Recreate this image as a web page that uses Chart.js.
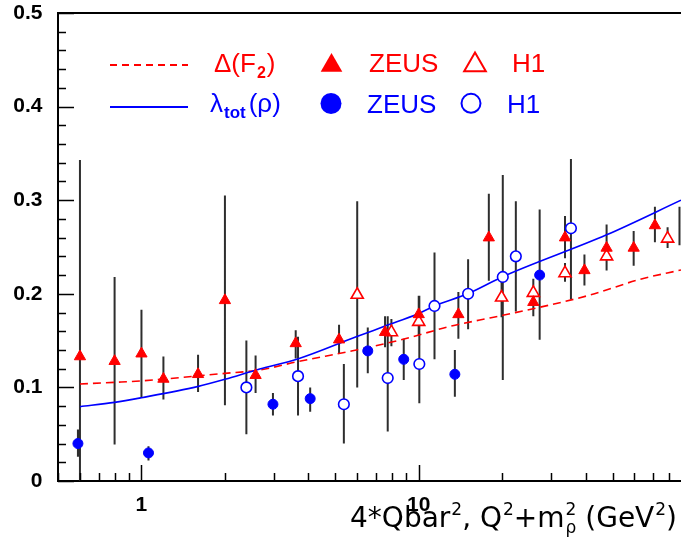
<!DOCTYPE html>
<html><head><meta charset="utf-8">
<script src="https://cdn.jsdelivr.net/npm/chart.js@4.4.1/dist/chart.umd.min.js"></script>
<style>html,body{margin:0;padding:0;background:#fff;overflow:hidden}canvas{display:block}</style>
</head><body>
<canvas id="c" width="681" height="556"></canvas>
<script>
// ---------- data ----------
const xTickValues = [1, 10];
const yTickValues = [0, 0.1, 0.2, 0.3, 0.4, 0.5];

// ZEUS Delta(F2)  (filled red triangles)
const zeusDeltaX  = [0.6, 0.8, 1.0, 1.2, 1.6, 2.0, 2.58, 3.6, 5.16, 7.56, 10.0, 13.9, 17.9, 25.9, 33.7, 39.6, 47.6, 59.6, 71.1];
const zeusDeltaY  = [0.133, 0.128, 0.136, 0.109, 0.114, 0.193, 0.113, 0.147, 0.151, 0.159, 0.178, 0.178, 0.260, 0.191, 0.260, 0.225, 0.249, 0.249, 0.273];
const zeusDeltaLo = [0.000, 0.039, 0.089, 0.087, 0.095, 0.081, 0.094, 0.131, 0.136, 0.143, 0.160, 0.152, 0.214, 0.176, 0.238, 0.209, 0.225, 0.230, 0.255];
const zeusDeltaHi = [0.343, 0.218, 0.183, 0.133, 0.135, 0.305, 0.134, 0.161, 0.167, 0.176, 0.198, 0.202, 0.307, 0.210, 0.283, 0.242, 0.274, 0.267, 0.293];

// H1 Delta(F2)  (open red triangles)
const h1DeltaX  = [6.0, 7.97, 10.0, 19.9, 25.9, 33.7, 47.6, 79.0];
const h1DeltaY  = [0.199, 0.159, 0.170, 0.196, 0.201, 0.222, 0.240, 0.259];
const h1DeltaLo = [0.100, 0.144, 0.155, 0.175, 0.186, 0.213, 0.228, 0.249];
const h1DeltaHi = [0.299, 0.173, 0.185, 0.218, 0.216, 0.233, 0.251, 0.271];

// ZEUS lambda_tot(rho)  (filled blue circles)
const zeusLamX  = [0.59, 1.06, 2.98, 4.06, 6.55, 8.83, 13.5, 27.3];
const zeusLamY  = [0.040, 0.030, 0.082, 0.088, 0.139, 0.130, 0.114, 0.220];
const zeusLamLo = [0.026, 0.022, 0.070, 0.074, 0.115, 0.108, 0.090, 0.151];
const zeusLamHi = [0.055, 0.037, 0.094, 0.100, 0.164, 0.152, 0.140, 0.290];

// H1 lambda_tot(rho)  (open blue circles)
const h1LamX  = [2.39, 3.67, 5.37, 7.73, 10.05, 11.4, 15.07, 20.1, 22.4, 35.4];
const h1LamY  = [0.100, 0.112, 0.082, 0.110, 0.125, 0.187, 0.200, 0.218, 0.240, 0.270];
const h1LamLo = [0.050, 0.070, 0.040, 0.053, 0.083, 0.130, 0.162, 0.108, 0.181, 0.194];
const h1LamHi = [0.150, 0.154, 0.125, 0.176, 0.198, 0.244, 0.237, 0.327, 0.299, 0.344];

// error bar at the right edge whose marker lies outside the frame
const edgeBarX  = [87.2];
const edgeBarLo = [0.252];
const edgeBarHi = [0.293];

// curves
const lamCurveX = [0.6, 0.8, 1.0, 1.59, 2.0, 2.67, 3.66, 5.95, 7.64, 10, 11.4, 15, 20, 47.6, 88.3];
const lamCurveY = [0.0794, 0.084, 0.089, 0.1008, 0.1086, 0.1197, 0.1303, 0.154, 0.166, 0.179, 0.187, 0.200, 0.218, 0.263, 0.300];
const delCurveX = [0.6, 0.8, 1.0, 2.0, 2.67, 3.66, 5.95, 8.78, 12.9, 16.6, 20.1, 41.5, 62.9, 88.3];
const delCurveY = [0.1036, 0.1054, 0.107, 0.115, 0.1186, 0.1275, 0.140, 0.1514, 0.165, 0.172, 0.177, 0.1987, 0.2155, 0.2254];

// ---------- drawing ----------
const RED = '#ff0000', BLUE = '#0000ff';
const pts = (xs, ys) => xs.map((x, i) => ({x: x, y: ys[i]}));
const errSeries = [
  {x: zeusDeltaX, lo: zeusDeltaLo, hi: zeusDeltaHi},
  {x: h1DeltaX, lo: h1DeltaLo, hi: h1DeltaHi},
  {x: zeusLamX, lo: zeusLamLo, hi: zeusLamHi},
  {x: h1LamX, lo: h1LamLo, hi: h1LamHi},
  {x: edgeBarX, lo: edgeBarLo, hi: edgeBarHi}
];
const SANS = '"Liberation Sans", Arial, "DejaVu Sans", sans-serif';
const WIDE = '"DejaVu Sans", "Liberation Sans", sans-serif';

// text pieces: [text, mode] mode: n normal, u superscript, s stacked (sup, sub)
function drawRich(ctx, pieces, xEnd, base, size, family) {
  const big = size + 'px ' + family, small = Math.round(size * 0.62) + 'px ' + family;
  const widths = pieces.map(p => {
    if (p[1] === 'n') { ctx.font = big; return ctx.measureText(p[0]).width; }
    ctx.font = small;
    if (p[1] === 's') return Math.max(ctx.measureText(p[0]).width, ctx.measureText(p[2]).width) + 1;
    return ctx.measureText(p[0]).width + 1;
  });
  let x = xEnd - widths.reduce((a, b) => a + b, 0);
  pieces.forEach((p, i) => {
    if (p[1] === 'n') { ctx.font = big; ctx.fillText(p[0], x, base); }
    else {
      ctx.font = small;
      if (p[1] === 'u') ctx.fillText(p[0], x + 1, base - size * 0.42);
      if (p[1] === 's') { ctx.fillText(p[0], x + 1, base - size * 0.42); ctx.fillText(p[2], x + 1, base + size * 0.2); }
    }
    x += widths[i];
  });
}

const framePlugin = {
  id: 'frameAndBars',
  beforeDatasetsDraw(chart) {
    const {ctx, chartArea: a, scales: {x, y}} = chart;
    ctx.save();
    ctx.beginPath(); ctx.rect(a.left, a.top, a.right - a.left, a.bottom - a.top); ctx.clip();
    ctx.strokeStyle = '#2e2e2e'; ctx.lineWidth = 2;
    ctx.beginPath();
    errSeries.forEach(s => s.x.forEach((xv, i) => {
      const px = x.getPixelForValue(xv);
      ctx.moveTo(px, y.getPixelForValue(s.lo[i]));
      ctx.lineTo(px, y.getPixelForValue(s.hi[i]));
    }));
    ctx.stroke();
    ctx.restore();

    ctx.save();
    ctx.strokeStyle = '#000'; ctx.lineWidth = 1.5;
    ctx.beginPath();
    for (let k = 0; k <= 25; k++) {
      const v = k * 0.02;
      const py = Math.round(y.getPixelForValue(v)) + 0.5;
      const major = k % 5 === 0;
      ctx.moveTo(a.left, py); ctx.lineTo(a.left + (major ? 16 : 8), py);
    }
    [0.1, 1, 10].forEach(d => {
      for (let m = 1; m <= 9; m++) {
        const v = m * d;
        if (v < x.min - 1e-9 || v > x.max) continue;
        const px = Math.round(x.getPixelForValue(v)) + 0.5;
        ctx.moveTo(px, a.bottom); ctx.lineTo(px, a.bottom - (m === 1 ? 16 : 8));
      }
    });
    ctx.stroke();
    ctx.lineWidth = 2;
    ctx.beginPath(); ctx.moveTo(a.left, a.top); ctx.lineTo(a.right, a.top); ctx.stroke();
    ctx.restore();
  },
  afterDraw(chart) {
    const ctx = chart.ctx;
    ctx.save();
    ctx.textBaseline = 'alphabetic';
    // axis title
    ctx.fillStyle = '#000';
    drawRich(ctx, [['4*Qbar', 'n'], ['2', 'u'], [', Q', 'n'], ['2', 'u'], ['+m', 'n'], ['2', 's', 'ρ'],
                   [' (GeV', 'n'], ['2', 'u'], [')', 'n']], 677, 527, 28, WIDE);
    // legend row 1
    ctx.strokeStyle = RED; ctx.lineWidth = 2; ctx.setLineDash([7, 5]);
    ctx.beginPath(); ctx.moveTo(110, 65); ctx.lineTo(188, 65); ctx.stroke();
    ctx.setLineDash([]);
    ctx.fillStyle = RED;
    ctx.font = '26px ' + SANS;
    let t = 'Δ(F'; ctx.fillText(t, 214, 72); let w = ctx.measureText(t).width;
    ctx.font = 'bold 16px ' + SANS; ctx.fillText('2', 214 + w + 1, 78); w += ctx.measureText('2').width + 2;
    ctx.font = '26px ' + SANS; ctx.fillText(')', 214 + w, 72);
    ctx.fillText('ZEUS', 369, 72);
    ctx.fillText('H1', 512, 72);
    const tri = (cx, cy, r) => {
      ctx.beginPath();
      ctx.moveTo(cx, cy - r);
      ctx.lineTo(cx + 0.866 * r, cy + 0.5 * r);
      ctx.lineTo(cx - 0.866 * r, cy + 0.5 * r);
      ctx.closePath();
    };
    tri(331.5, 65.5, 12.5); ctx.fill();
    ctx.lineWidth = 2; tri(475, 65, 12.5); ctx.strokeStyle = RED; ctx.stroke();
    // legend row 2
    ctx.strokeStyle = BLUE; ctx.lineWidth = 2;
    ctx.beginPath(); ctx.moveTo(110, 107); ctx.lineTo(188, 107); ctx.stroke();
    ctx.fillStyle = BLUE;
    ctx.font = '26px ' + SANS;
    t = 'λ'; ctx.fillText(t, 210, 112); w = ctx.measureText(t).width + 1;
    ctx.font = 'bold 17px ' + SANS; ctx.fillText('tot', 210 + w, 118); w += ctx.measureText('tot').width + 3;
    ctx.font = '26px ' + SANS; ctx.fillText('(ρ)', 210 + w, 112);
    ctx.fillText('ZEUS', 367, 112.5);
    ctx.fillText('H1', 507, 112.5);
    ctx.beginPath(); ctx.arc(331, 103.5, 10.5, 0, Math.PI * 2); ctx.fill();
    ctx.lineWidth = 2; ctx.beginPath(); ctx.arc(471, 103.3, 9.5, 0, Math.PI * 2); ctx.stroke();
    ctx.restore();
  }
};

const tickFont = {family: '"Liberation Sans", Arial, sans-serif', size: 21, weight: 'bold'};

new Chart(document.getElementById('c'), {
  type: 'scatter',
  data: {
    datasets: [
      {label: 'ZEUS Δ(F2)', data: pts(zeusDeltaX, zeusDeltaY), pointStyle: 'triangle', pointRadius: 6.5,
       backgroundColor: RED, borderColor: RED, borderWidth: 1},
      {label: 'H1 Δ(F2)', data: pts(h1DeltaX, h1DeltaY), pointStyle: 'triangle', pointRadius: 7,
       backgroundColor: '#fff', borderColor: RED, borderWidth: 1.6},
      {label: 'ZEUS λtot(ρ)', data: pts(zeusLamX, zeusLamY), pointStyle: 'circle', pointRadius: 5,
       backgroundColor: BLUE, borderColor: BLUE, borderWidth: 1},
      {label: 'H1 λtot(ρ)', data: pts(h1LamX, h1LamY), pointStyle: 'circle', pointRadius: 5.3,
       backgroundColor: '#fff', borderColor: BLUE, borderWidth: 1.6},
      {label: 'λtot(ρ)', data: pts(lamCurveX, lamCurveY), showLine: true, borderColor: BLUE, borderWidth: 1.6,
       pointRadius: 0, cubicInterpolationMode: 'monotone', fill: false},
      {label: 'Δ(F2)', data: pts(delCurveX, delCurveY), showLine: true, borderColor: RED, borderWidth: 1.6,
       borderDash: [8, 5], pointRadius: 0, cubicInterpolationMode: 'monotone', fill: false}
    ]
  },
  options: {
    responsive: false, animation: false, devicePixelRatio: 1,
    layout: {autoPadding: false, padding: {top: 13, right: 0, bottom: 0, left: 0}},
    plugins: {legend: {display: false}, tooltip: {enabled: false}},
    scales: {
      x: {
        type: 'logarithmic', min: 0.5, max: 88.3,
        grid: {display: false, drawTicks: false},
        border: {display: true, color: '#000', width: 2},
        afterBuildTicks: s => { s.ticks = xTickValues.map(v => ({value: v})); },
        afterFit: s => { s.height = 75; s.paddingLeft = 0; s.paddingRight = 0; s.paddingTop = 0; s.paddingBottom = 0; },
        ticks: {autoSkip: false, maxRotation: 0, padding: 11.5, color: '#000', font: tickFont,
                callback: v => String(v)}
      },
      y: {
        min: 0, max: 0.5,
        grid: {display: false, drawTicks: false},
        border: {display: true, color: '#000', width: 2},
        afterBuildTicks: s => { s.ticks = yTickValues.map(v => ({value: v})); },
        afterFit: s => { s.width = 58; s.paddingTop = 0; s.paddingBottom = 0; s.paddingLeft = 0; s.paddingRight = 0; },
        ticks: {padding: 15.5, color: '#000', font: tickFont,
                callback: v => (v === 0 ? '0' : Number(v).toFixed(1))}
      }
    }
  },
  plugins: [framePlugin]
});
</script>
</body></html>
